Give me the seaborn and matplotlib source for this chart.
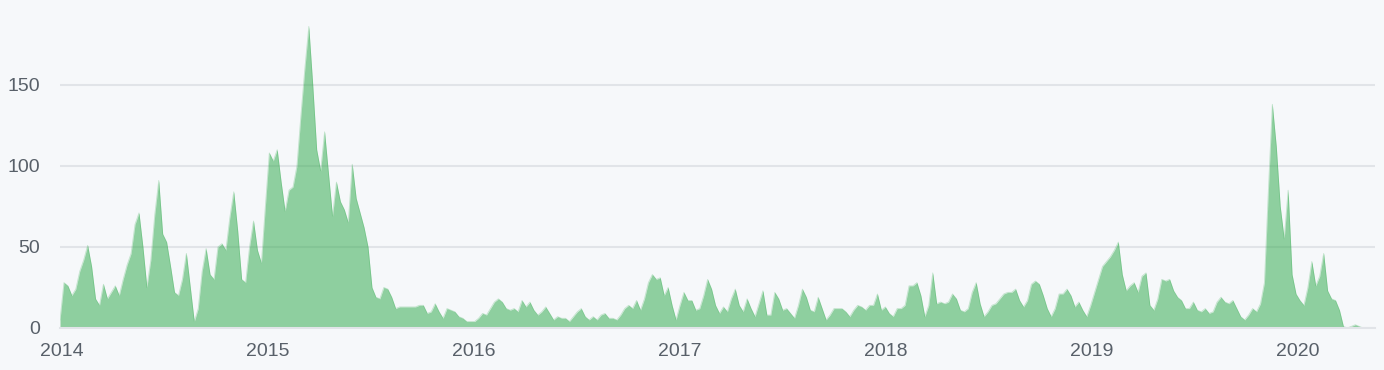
import numpy as np
import pandas as pd
import matplotlib
matplotlib.use("Agg")
import matplotlib.pyplot as plt
import matplotlib.dates as mdates
import seaborn as sns

# Weekly commit counts, first week starting 2013-12-29
start_week = "2013-12-29"
commits = [
    5, 28, 26, 20, 24, 35, 42, 51, 38, 18,
    14, 27, 18, 22, 26, 20, 30, 39, 46, 64,
    71, 50, 25, 42, 70, 91, 58, 53, 38, 22,
    20, 30, 46, 25, 4, 12, 35, 49, 33, 30,
    50, 52, 48, 68, 84, 60, 30, 28, 50, 66,
    48, 40, 75, 108, 103, 110, 90, 72, 85, 87,
    100, 131, 160, 186, 150, 110, 97, 121, 95, 69,
    90, 78, 73, 65, 101, 80, 71, 62, 50, 25,
    19, 18, 25, 24, 19, 12, 13, 13, 13, 13, 13,
    14, 14, 9, 10, 15, 10, 6, 12, 11, 10,
    7, 6, 4, 4, 4, 6, 9, 8, 12, 16,
    18, 16, 12, 11, 12, 10, 17, 13, 16, 11,
    8, 10, 13, 9, 5, 7, 6, 6, 4, 7,
    10, 12, 7, 5, 7, 5, 8, 9, 6, 6,
    5, 8, 12, 14, 12, 17, 11, 18, 28, 33,
    30, 31, 20, 25, 14, 5, 14, 22, 17, 17,
    11, 12, 20, 30, 24, 14, 9, 13, 10, 18,
    24, 14, 10, 18, 12, 7, 15, 23, 8, 8,
    22, 18, 11, 12, 9, 6, 14, 24, 19, 11,
    10, 19, 12, 5, 8, 12, 12, 12, 10, 7,
    11, 14, 13, 11, 14, 14, 21, 11, 13, 9,
    7, 12, 12, 14, 26, 26, 28, 20, 7, 14,
    34, 15, 16, 15, 16, 21, 18, 11, 10, 12,
    22, 28, 15, 7, 10, 14, 15, 18, 21, 22,
    22, 24, 17, 13, 17, 27, 29, 27, 20, 12,
    7, 12, 21, 21, 24, 20, 13, 16, 11, 7,
    14, 22, 30, 38, 41, 44, 48, 53, 33, 23,
    26, 28, 22, 32, 34, 14, 11, 18, 30, 29,
    30, 23, 19, 17, 12, 12, 16, 11, 10, 12,
    9, 10, 16, 19, 16, 15, 17, 12, 7, 5,
    8, 12, 10, 15, 28, 85, 138, 112, 75, 55,
    85, 33, 21, 17, 14, 25, 41, 26, 32, 46,
    23, 18, 17, 11, 1, 0, 1, 2, 1, 0,
    0, 0, 0,
]
y_ticks = [0, 50, 100, 150]
x_years = [2014, 2015, 2016, 2017, 2018, 2019, 2020]

sns.set_theme(style="white")
plt.rcParams["font.family"] = ["Liberation Sans", "DejaVu Sans"]

BG = "#f6f8fa"
GREEN = "#28a745"
GRID = "#e1e4e8"
TEXT = "#586069"

df = pd.DataFrame({
    "week": pd.date_range(start_week, periods=len(commits), freq="7D"),
    "commits": commits,
})

fig = plt.figure(figsize=(13.84, 3.70), dpi=100, facecolor=BG)
ax = fig.add_axes([60 / 1384, 1 - 328 / 370, (1375 - 60) / 1384, (328 - 20) / 370])
ax.set_facecolor(BG)

ax.set_axisbelow(True)
ax.yaxis.grid(True, color=GRID, linewidth=1.5)
ax.xaxis.grid(False)

ax.fill_between(df["week"], df["commits"], 0, color=GREEN, alpha=0.5, linewidth=0, zorder=2)
sns.lineplot(data=df, x="week", y="commits", color=GREEN, alpha=0.25, linewidth=0.6,
             ax=ax, legend=False, zorder=3)

ax.set_xlim(df["week"].iloc[0], df["week"].iloc[-1])
ax.set_ylim(0, 190)
ax.set_yticks(y_ticks)
ax.set_yticklabels([str(v) for v in y_ticks])
ax.set_xticks([pd.Timestamp(f"{y}-01-01") for y in x_years])
ax.set_xticklabels([str(y) for y in x_years])

ax.tick_params(axis="y", length=0, pad=14.4, labelsize=14, labelcolor=TEXT)
ax.tick_params(axis="x", length=7.2, width=1.5, color="#d1d5da", pad=3.6,
               labelsize=14, labelcolor=TEXT)
ax.set_xlabel("")
ax.set_ylabel("")

for s in ["top", "right", "left"]:
    ax.spines[s].set_visible(False)
ax.spines["bottom"].set_color(GRID)
ax.spines["bottom"].set_linewidth(1.5)
ax.spines["bottom"].set_zorder(4)

fig.savefig("out.png", dpi=100, facecolor=BG)
